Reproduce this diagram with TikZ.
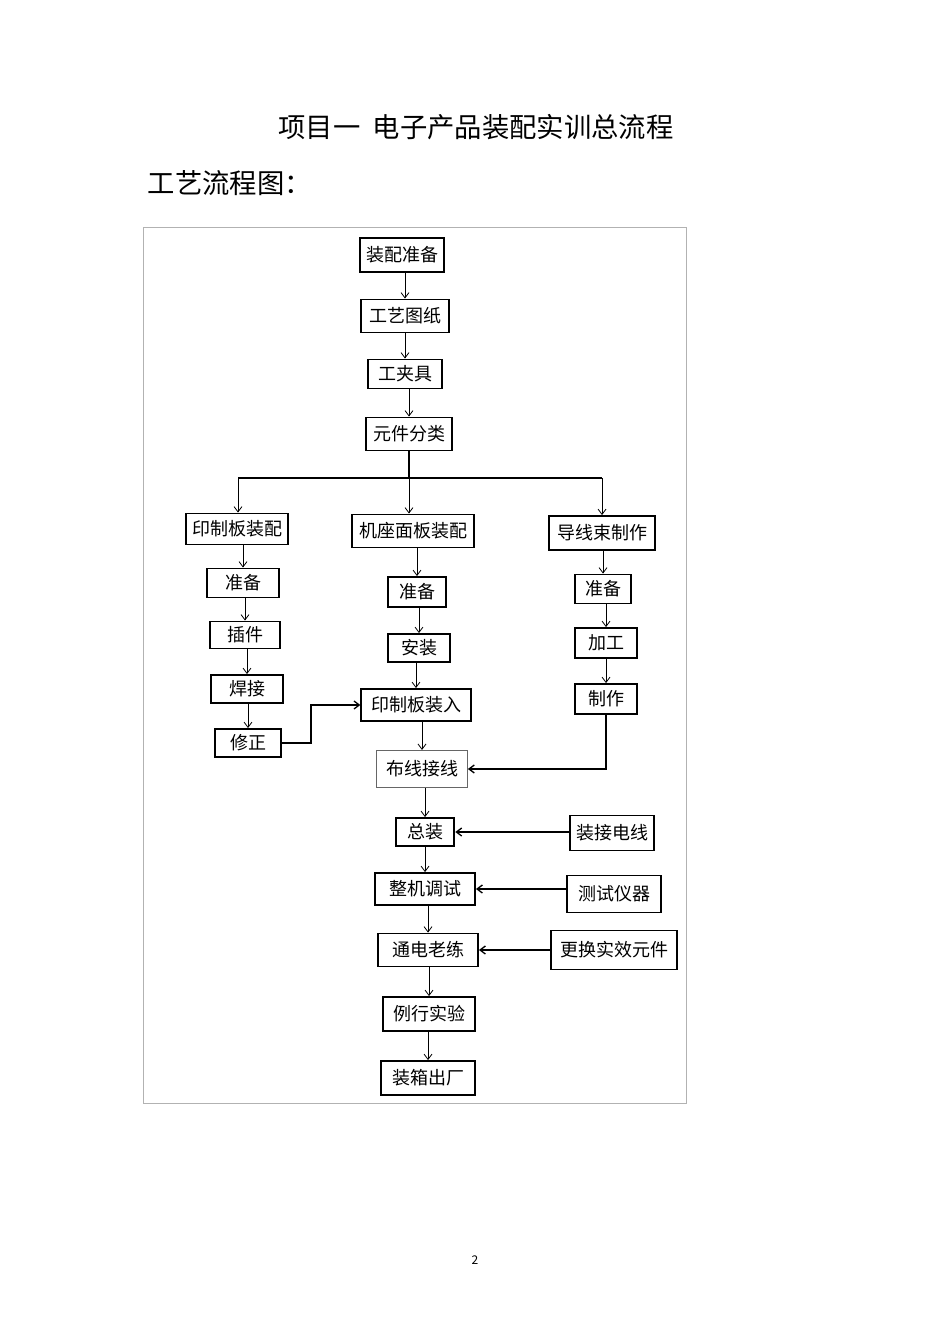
\documentclass[tikz,border=0pt]{standalone}
\usepackage{fontspec}
\setmainfont{Noto Sans CJK SC}
\usetikzlibrary{arrows.meta}
\begin{document}
\begin{tikzpicture}[x=0.75pt,y=-0.75pt,
  bx/.style={draw,line width=1.4pt,inner sep=0pt,minimum height=#1*0.75pt,font=\fontsize{13.5}{14}\selectfont},
  bx/.default=31,
  ar/.style={-{Straight Barb[length=4pt,width=6pt]},line width=0.6pt}]
\useasboundingbox (0,0) rectangle (950,1344);
\fill[white] (0,0) rectangle (950,1344);
\node[font=\fontsize{20.5}{22}\selectfont] (title) at (476,127) {项目一\ \ 电子产品装配实训总流程};
\node[font=\fontsize{20.5}{22}\selectfont,anchor=west] (sub) at (143,183) {工艺流程图：};
\node[font=\fontsize{9}{10}\selectfont] (pg) at (475,1260) {2};
\draw[gray!60,line width=0.6pt] (143,227) rectangle (686,1103);
\node[bx=34,minimum width=63pt] (a1) at (402,255) {装配准备};
\node[bx=33,minimum width=66pt] (a2) at (405,316) {工艺图纸};
\node[bx=29,minimum width=55pt] (a3) at (405,374) {工夹具};
\node[bx=33,minimum width=64pt] (a4) at (409,434) {元件分类};
\node[bx=31,minimum width=77pt] (l0) at (237,529) {印制板装配};
\node[bx=33,minimum width=92pt] (m0) at (413,531) {机座面板装配};
\node[bx=34,minimum width=80pt] (r0) at (602,533) {导线束制作};
\node[bx=29,minimum width=54pt] (l1) at (243,583) {准备};
\node[bx=27,minimum width=53pt] (l2) at (245,635) {插件};
\node[bx=28,minimum width=54pt] (l3) at (247,689) {焊接};
\node[bx=28,minimum width=50pt] (l4) at (248,743) {修正};
\node[bx=30,minimum width=43pt] (m1) at (417,592) {准备};
\node[bx=28,minimum width=47pt] (m2) at (419,648) {安装};
\node[bx=32,minimum width=82pt] (m3) at (416,705) {印制板装入};
\node[bx=37,minimum width=68pt,draw=black!60,line width=0.8pt] (m4) at (422,769) {布线接线};
\node[bx=28,minimum width=44pt] (m5) at (425,832) {总装};
\node[bx=32,minimum width=75pt] (m6) at (425,889) {整机调试};
\node[bx=33,minimum width=75pt] (m7) at (428,950) {通电老练};
\node[bx=34,minimum width=69pt] (m8) at (429,1014) {例行实验};
\node[bx=34,minimum width=71pt] (m9) at (428,1078) {装箱出厂};
\node[bx=29,minimum width=42pt] (r1) at (603,589) {准备};
\node[bx=30,minimum width=46pt] (r2) at (606,643) {加工};
\node[bx=30,minimum width=47pt] (r3) at (606,699) {制作};
\node[bx=35,minimum width=63pt] (s1) at (612,833) {装接电线};
\node[bx=37,minimum width=70pt] (s2) at (614,894) {测试仪器};
\node[bx=39,minimum width=94pt] (s3) at (614,950) {更换实效元件};
\draw[ar] (a1.south-|a2) -- (a2);
\draw[ar] (a2.south-|a3) -- (a3);
\draw[ar] (a3.south-|a4) -- (a4);
\coordinate (hl) at (238,478);
\coordinate (hm) at (409,478);
\coordinate (hr) at (602,478);
\draw[line width=1.2pt] (a4.south) -- (hm);
\draw[line width=1.2pt] (hl) -- (hr);
\draw[ar] (hl) -- (hl|-l0.north);
\draw[ar] (hm) -- (hm|-m0.north);
\draw[ar] (hr) -- (hr|-r0.north);
\draw[ar] (l0.south-|l1) -- (l1);
\draw[ar] (l1.south-|l2) -- (l2);
\draw[ar] (l2.south-|l3) -- (l3);
\draw[ar] (l3.south-|l4) -- (l4);
\draw[ar] (m0.south-|m1) -- (m1);
\draw[ar] (m1.south-|m2) -- (m2);
\draw[ar] (m2.south-|m3) -- (m3);
\draw[ar] (m3.south-|m4) -- (m4);
\draw[ar] (m4.south-|m5) -- (m5);
\draw[ar] (m5.south-|m6) -- (m6);
\draw[ar] (m6.south-|m7) -- (m7);
\draw[ar] (m7.south-|m8) -- (m8);
\draw[ar] (m8.south-|m9) -- (m9);
\draw[ar] (r0.south-|r1) -- (r1);
\draw[ar] (r1.south-|r2) -- (r2);
\draw[ar] (r2.south-|r3) -- (r3);
\draw[ar,line width=1pt] (l4.east) -- (311,743) |- (m3.west);
\draw[ar,line width=1pt] (r3.south) |- (m4.east);
\draw[ar,line width=1pt] (s1.west|-m5) -- (m5.east);
\draw[ar,line width=1pt] (s2.west|-m6) -- (m6.east);
\draw[ar,line width=1pt] (s3.west|-m7) -- (m7.east);
\end{tikzpicture}
\end{document}
